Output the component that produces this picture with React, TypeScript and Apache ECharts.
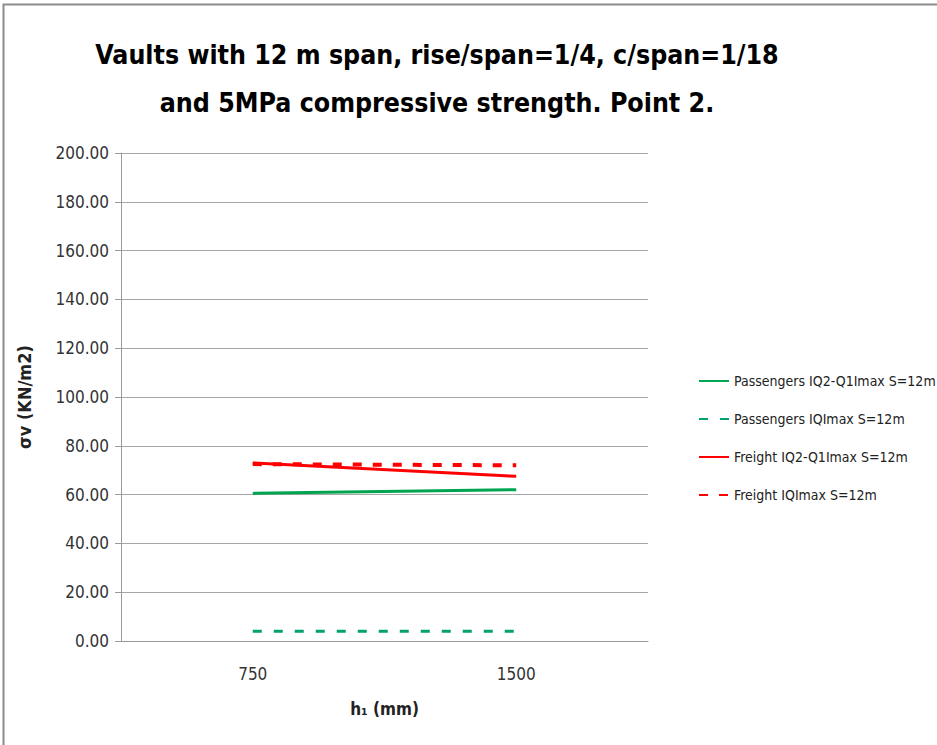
import React, { useEffect, useRef } from "react";
import * as echarts from "echarts";

const categories = ["750", "1500"];
const passengersIQ2Q1 = [60.5, 62.0];
const passengersIQmax = [4.0, 4.0];
const freightIQ2Q1 = [73.0, 67.5];
const freightIQmax = [72.5, 72.0];
const seriesNames = [
  "Passengers IQ2-Q1Imax S=12m",
  "Passengers IQImax S=12m",
  "Freight IQ2-Q1Imax S=12m",
  "Freight IQImax S=12m",
];

const FONT = "'DejaVu Sans Condensed', 'Liberation Sans Narrow', 'Liberation Sans', sans-serif";
const BASE = "'Liberation Sans', sans-serif";

export default function App() {
  const ref = useRef<HTMLDivElement>(null);
  useEffect(() => {
    if (!ref.current) return;
    const chart = echarts.init(ref.current, null, { renderer: "svg" });
    const green = "#00a550";
    const red = "#ff0000";
    chart.setOption({
      animation: false,
      backgroundColor: "#ffffff",
      textStyle: { fontFamily: BASE },
      title: {
        text: "Vaults with 12 m span, rise/span=1/4, c/span=1/18\nand 5MPa compressive strength. Point 2.",
        left: 432,
        top: 25,
        textAlign: "center",
        textStyle: {
          fontFamily: FONT,
          fontSize: 26.5,
          fontWeight: "bold",
          color: "#000",
          lineHeight: 48,
        },
      },
      graphic: [
        {
          type: "rect",
          shape: { x: 3.5, y: 4.5, width: 940, height: 745 },
          style: { fill: "none", stroke: "#8c8c8c", lineWidth: 2 },
          silent: true,
        },
      ],
      legend: {
        orient: "vertical",
        left: 693,
        top: 369,
        itemWidth: 30,
        itemHeight: 14,
        itemGap: 24,
        data: seriesNames,
        itemStyle: { opacity: 0 },
        textStyle: { fontFamily: FONT, fontSize: 14, color: "#222" },
      },
      grid: { left: 121, right: 289, top: 153, bottom: 104, containLabel: false },
      xAxis: {
        type: "category",
        data: categories,
        boundaryGap: true,
        name: "h₁ (mm)",
        nameLocation: "middle",
        nameGap: 59,
        nameTextStyle: { fontFamily: FONT, fontSize: 17, fontWeight: "bold", color: "#222" },
        axisLine: { lineStyle: { color: "#9a9a9a" } },
        axisTick: { show: false },
        axisLabel: { fontFamily: FONT, fontSize: 17, color: "#333", margin: 24 },
      },
      yAxis: {
        type: "value",
        min: 0,
        max: 200,
        interval: 20,
        name: "σv (KN/m2)",
        nameLocation: "middle",
        nameRotate: 90,
        nameGap: 88,
        nameTextStyle: { fontFamily: FONT, fontSize: 18, fontWeight: "bold", color: "#222" },
        axisLine: { show: true, lineStyle: { color: "#9a9a9a" } },
        axisTick: { show: true, length: 6, lineStyle: { color: "#9a9a9a" } },
        axisLabel: {
          fontFamily: FONT,
          fontSize: 17,
          color: "#333",
          margin: 12,
          formatter: (v: number) => v.toFixed(2),
        },
        splitLine: { lineStyle: { color: "#a6a6a6", width: 1 } },
      },
      series: [
        {
          name: seriesNames[0],
          type: "line",
          data: passengersIQ2Q1,
          symbol: "none",
          lineStyle: { color: green, width: 3 },
          itemStyle: { color: green },
        },
        {
          name: seriesNames[1],
          type: "line",
          data: passengersIQmax,
          symbol: "none",
          lineStyle: { color: "#00a070", width: 3, type: [9, 12] },
          itemStyle: { color: "#00a070" },
        },
        {
          name: seriesNames[2],
          type: "line",
          data: freightIQ2Q1,
          symbol: "none",
          lineStyle: { color: red, width: 3 },
          itemStyle: { color: red },
        },
        {
          name: seriesNames[3],
          type: "line",
          data: freightIQmax,
          symbol: "none",
          lineStyle: { color: red, width: 4, type: [9, 11] },
          itemStyle: { color: red },
        },
      ],
    });
    return () => chart.dispose();
  }, []);
  return (
    <div
      ref={ref}
      style={{ position: "fixed", left: 0, top: 0, width: 937, height: 745 }}
    />
  );
}
